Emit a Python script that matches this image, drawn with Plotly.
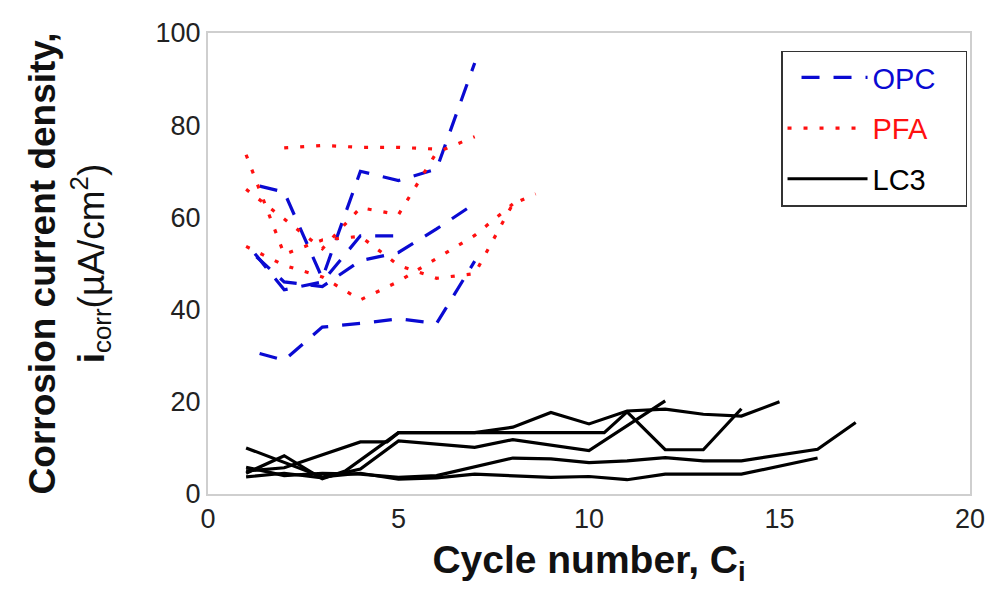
import plotly.graph_objects as go

# ---------------- data ----------------
opc_x = [[1, 2, 3, 4, 5, 6, 7],
         [1, 2, 3, 4, 5, 6, 7],
         [1, 2, 3, 4, 5],
         [1, 2, 3, 4, 5, 6, 7]]
opc_y = [[67.5, 65.5, 46.8, 70.0, 68.0, 70.5, 93.5],
         [53.5, 46.0, 45.0, 50.6, 52.4, 57.5, 63.0],
         [54.5, 44.3, 46.0, 56.0, 56.0],
         [31.3, 29.0, 36.2, 37.0, 38.0, 37.0, 50.5]]

pfa_x = [[1, 2, 3, 4, 5, 6, 7, 8, 8.6],
         [2, 3, 4, 5, 6],
         [1, 2, 3, 4, 5, 6, 7],
         [1, 2, 3, 4, 5, 6, 7, 8]]
pfa_y = [[73.6, 52.0, 55.1, 55.9, 49.6, 46.8, 47.8, 62.9, 65.1],
         [75.1, 75.6, 75.2, 75.2, 74.8],
         [66.1, 59.6, 53.2, 62.1, 60.6, 74.1, 77.5],
         [53.7, 49.6, 47.1, 42.1, 46.1, 51.1, 56.1, 62.9]]

lc3_x = [[1, 2, 3, 3.6, 5, 7, 8, 9, 10, 11, 12, 13, 14, 15],
         [1, 2, 3, 4, 5, 7, 8, 10, 12],
         [1, 2, 4, 4.7, 5, 10.4, 11, 12, 13, 14],
         [1, 2, 3, 4, 5, 6, 7, 9, 10, 11, 12, 14, 16],
         [1, 2, 3, 4, 5, 6, 8, 9, 10, 11, 12, 13, 14, 16, 17]]
lc3_y = [[4.5, 8.3, 3.3, 5.0, 13.3, 13.3, 14.5, 17.7, 15.2, 18.0, 18.4, 17.3, 16.9, 20.0],
         [3.7, 4.5, 3.5, 5.4, 11.5, 10.1, 11.8, 9.4, 20.2],
         [5.0, 5.7, 11.3, 11.3, 13.3, 13.3, 17.8, 9.6, 9.6, 18.5],
         [10.0, 6.8, 3.7, 4.5, 3.2, 3.5, 4.3, 3.6, 3.8, 3.1, 4.3, 4.3, 7.8],
         [5.8, 4.0, 4.5, 4.3, 3.6, 4.0, 7.8, 7.6, 6.8, 7.2, 7.9, 7.2, 7.2, 9.7, 15.5]]

x_ticks = [0, 5, 10, 15, 20]
y_ticks = [0, 20, 40, 60, 80, 100]

BLUE = "#0a0ad2"
RED = "#ff1010"
BLACK = "#000000"
FONT = "Liberation Sans, Arial, sans-serif"

fig = go.Figure()

groups = [
    ("OPC", opc_x, opc_y, BLUE, "0px,14px,18px,0px"),
    ("PFA", pfa_x, pfa_y, RED, "4px,12px"),
    ("LC3", lc3_x, lc3_y, BLACK, "solid"),
]
for name, xs, ys, col, dash in groups:
    for i, (xx, yy) in enumerate(zip(xs, ys)):
        fig.add_trace(go.Scatter(
            x=xx, y=yy, mode="lines",
            line=dict(color=col, width=3.2, dash=dash),
            name=f"<span style='color:{col}'>{name}</span>\u00a0\u00a0\u00a0",
            legendgroup=name, showlegend=(i == 0),
        ))

fig.update_layout(
    width=997, height=593,
    margin=dict(l=208, r=25, t=33, b=99),
    plot_bgcolor="white", paper_bgcolor="white",
    font=dict(family=FONT, color="#222222"),
    showlegend=True,
    legend=dict(
        x=0.752, y=0.962, xanchor="left", yanchor="top",
        bordercolor="#333333", borderwidth=1.5, bgcolor="white",
        font=dict(size=29, family=FONT),
        itemwidth=80, tracegroupgap=10,
    ),
    xaxis=dict(
        range=[0, 20], tickvals=x_ticks, ticktext=[str(v) for v in x_ticks],
        showgrid=False, zeroline=False, showline=True, mirror=True,
        linecolor="#cfcfcf", linewidth=2, ticks="",
        tickfont=dict(size=27, color="#222222"),
        title=dict(text="<b>Cycle number, C<sub>i</sub></b>",
                   font=dict(size=39, color="#111111"), standoff=12),
    ),
    yaxis=dict(
        range=[0, 100], tickvals=y_ticks, ticktext=[str(v) for v in y_ticks],
        showgrid=False, zeroline=False, showline=True, mirror=True,
        linecolor="#cfcfcf", linewidth=2, ticks="",
        ticklabelstandoff=0,
        tickfont=dict(size=27, color="#222222"),
        title=dict(text="<b>Corrosion current density,</b><br><b>i</b><sub>corr</sub>(\u00b5A/cm<sup>2</sup>)",
                   font=dict(size=37, color="#111111"), standoff=40),
    ),
)

fig.write_html("out.html")
